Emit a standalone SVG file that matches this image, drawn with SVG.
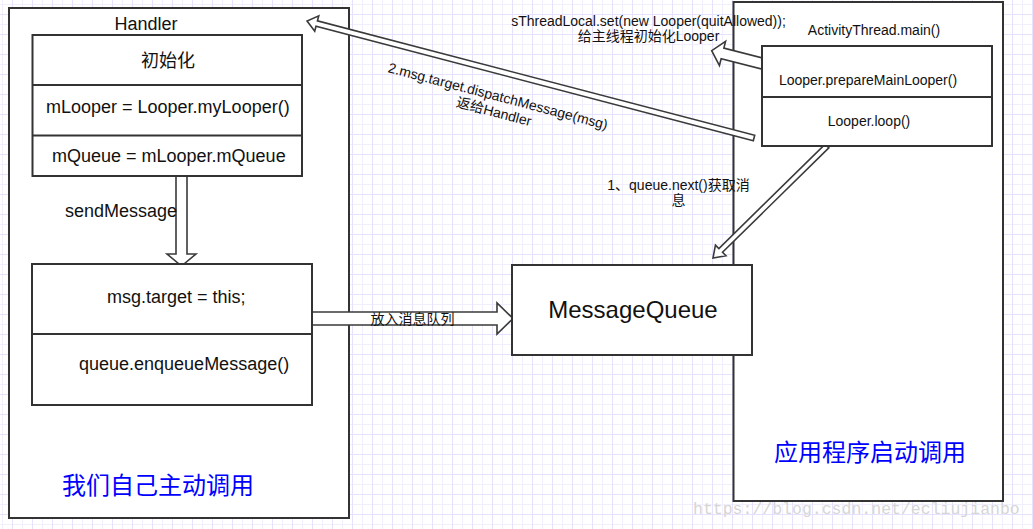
<svg xmlns="http://www.w3.org/2000/svg" width="1033" height="529" viewBox="0 0 1033 529">
<defs>
<pattern id="grid" patternUnits="userSpaceOnUse" x="2" y="4" width="20" height="20">
<rect x="0" y="0" width="20" height="20" fill="#ffffff"/>
<rect x="0" y="0" width="1" height="20" fill="#f1eefd"/>
<rect x="0" y="0" width="20" height="1" fill="#f1eefd"/>
<rect x="10" y="0" width="1" height="20" fill="#e6e1fc"/>
<rect x="0" y="10" width="20" height="1" fill="#e6e1fc"/>
</pattern>
<style>
.box{fill:#fff;stroke:#333;stroke-width:2}
.div{fill:none;stroke:#333;stroke-width:2}
.arr{fill:#fff;stroke:#3a3a3a;stroke-width:1.6;stroke-linejoin:miter}
.t{font-family:"Liberation Sans","Noto Sans CJK SC",sans-serif;fill:#111}
.s18{font-size:18px}
.s14{font-size:14px}
.s24{font-size:24px}
.c{text-anchor:middle}
.blue{fill:#0000ff;font-size:24px}
.wm{font-family:"Liberation Mono",monospace;font-size:16.5px;fill:#d6d6d6}
</style>
</defs>
<rect x="0" y="0" width="1033" height="529" fill="url(#grid)"/>

<g id="handler">
<rect class="box" x="9" y="8" width="340" height="510"/>
<text class="t s18 c" x="146" y="30">Handler</text>
<text class="t blue c" x="158" y="494">我们自己主动调用</text>
</g>

<g id="activity-thread">
<rect class="box" x="733.5" y="2" width="269.5" height="499"/>
<text class="t s14 c" x="874" y="35">ActivityThread.main()</text>
<text class="t blue c" x="870" y="461">应用程序启动调用</text>
</g>

<g id="connectors">
<polygon class="arr" points="176,176 187,176 187,254 196,254 181.5,266 167,254 176,254"/>
<text class="t s18" x="65" y="217">sendMessage</text>
<polygon class="arr" points="312,312 497,312 497,303 513,318.5 497,334 497,325 312,325"/>
<text class="t s14 c" x="412.5" y="324">放入消息队列</text>
<g transform="translate(770,65.5) rotate(-165.76)">
<polygon class="arr" points="0,-5.5 49,-5.5 49,-12.5 60.15,0 49,12.5 49,5.5 0,5.5"/>
</g>
<text class="t s14 c" x="648.5" y="26">sThreadLocal.set(new Looper(quitAllowed));</text>
<text class="t s14 c" x="648.5" y="41">给主线程初始化Looper</text>
<g transform="translate(754,138) rotate(-165.33)">
<polygon class="arr" points="0,-2.8 452,-2.8 452,-8 462,0 452,8 452,2.8 0,2.8"/>
</g>
<g transform="translate(498,96) rotate(14.7)">
<text class="t s14 c" x="0" y="5">2.msg.target.dispatchMessage(msg)</text>
<text class="t s14 c" x="0" y="21">返给Handler</text>
</g>
<g transform="translate(827,146) rotate(135.51)">
<polygon class="arr" points="0,-2.6 149,-2.6 149,-7.5 159.8,0 149,7.5 149,2.6 0,2.6"/>
</g>
<text class="t s14 c" x="678.5" y="190">1、queue.next()获取消</text>
<text class="t s14 c" x="678.5" y="205">息</text>
</g>

<g id="init">
<rect class="box" x="32.5" y="35" width="269.5" height="141"/>
<line class="div" x1="32.5" y1="85" x2="302" y2="85"/>
<line class="div" x1="32.5" y1="135.5" x2="302" y2="135.5"/>
<text class="t s18 c" x="168" y="67">初始化</text>
<text class="t s18" x="46" y="113">mLooper = Looper.myLooper()</text>
<text class="t s18" x="52" y="162">mQueue = mLooper.mQueue</text>
</g>

<g id="send">
<rect class="box" x="32" y="264" width="280" height="141"/>
<line class="div" x1="32" y1="334" x2="312" y2="334"/>
<text class="t s18" x="107" y="303">msg.target = this;</text>
<text class="t s18" x="79" y="370">queue.enqueueMessage()</text>
</g>

<g id="message-queue">
<rect class="box" x="512" y="265" width="240" height="90"/>
<text class="t s24 c" x="633" y="318">MessageQueue</text>
</g>

<g id="looper">
<rect class="box" x="762" y="46" width="230" height="100"/>
<line class="div" x1="762" y1="97" x2="992" y2="97"/>
<text class="t s14 c" x="868" y="85">Looper.prepareMainLooper()</text>
<text class="t s14 c" x="869" y="126">Looper.loop()</text>
</g>

<g id="watermark">
<text class="wm" x="693" y="514">https://blog.csdn.net/ecliujianbo</text>
</g>
</svg>
